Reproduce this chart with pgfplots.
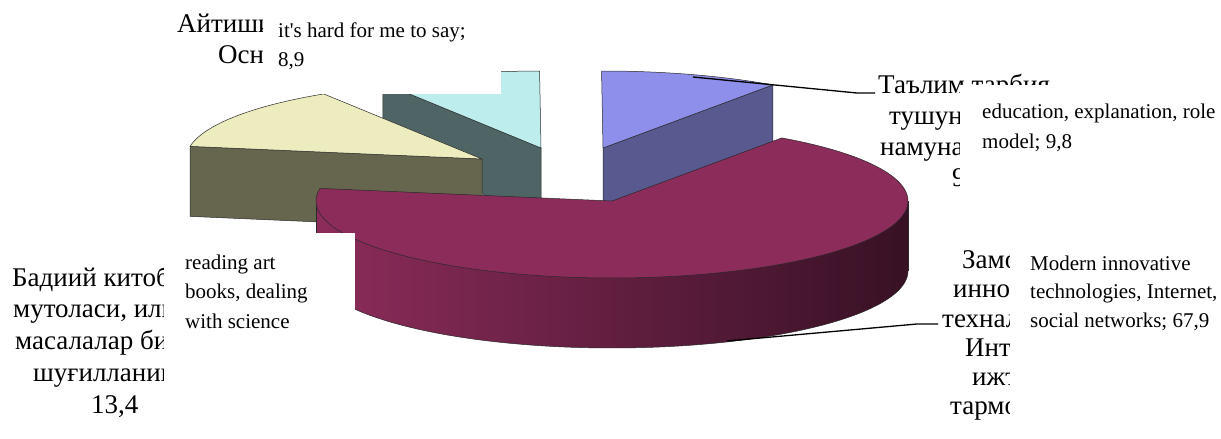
\documentclass[border=0pt]{standalone}
\usepackage{pgfplots}
\pgfplotsset{compat=1.18}
\usepackage{fontspec}
\setmainfont{Liberation Serif}
\definecolor{martop}{RGB}{140,44,90}
\definecolor{mardark}{RGB}{56,17,37}
\definecolor{blutop}{RGB}{142,142,235}
\definecolor{bluside}{RGB}{87,89,143}
\definecolor{cyatop}{RGB}{189,237,237}
\definecolor{cyaside}{RGB}{79,101,101}
\definecolor{yeltop}{RGB}{236,236,190}
\definecolor{yelside}{RGB}{102,102,79}
\definecolor{edge}{RGB}{40,40,40}
\newcommand\cyr{\fontsize{27}{30}\selectfont}
\newcommand\eng{\fontsize{21}{28}\selectfont}
\begin{document}
\begin{tikzpicture}
% shares (per cent)
\def\pEdu{9.8}\def\pHard{8.9}\def\pRead{13.4}\def\pTech{67.9}
\def\rx{296}\def\ry{77}\def\thk{70}
\pgfmathsetmacro{\aA}{55}
\pgfmathsetmacro{\aB}{\aA+3.6*\pEdu}
\pgfmathsetmacro{\aC}{\aB+3.6*\pHard}
\pgfmathsetmacro{\aD}{\aC+3.6*\pRead}
\pgfmathsetmacro{\aE}{\aD+3.6*\pTech}
% slice centres (exploded)
\def\Bx{603}\def\By{148}
\def\Cx{541}\def\Cy{148}
\def\Yx{482}\def\Yy{159}
\def\Mx{612}\def\My{201}
% radial faces
\pgfmathsetmacro{\bpx}{\Bx+\rx*cos(\aA)}\pgfmathsetmacro{\bpy}{\By-\ry*sin(\aA)}
\pgfmathsetmacro{\bpyl}{\bpy+\thk}\pgfmathsetmacro{\Byl}{\By+\thk}
\pgfmathsetmacro{\cpx}{\Cx+\rx*cos(\aC)}\pgfmathsetmacro{\cpy}{\Cy-\ry*sin(\aC)}
\pgfmathsetmacro{\cpyl}{\cpy+\thk}\pgfmathsetmacro{\Cyl}{\Cy+\thk}
\pgfmathsetmacro{\ypx}{\Yx+\rx*cos(\aD)}\pgfmathsetmacro{\ypy}{\Yy-\ry*sin(\aD)}
\pgfmathsetmacro{\ypyl}{\ypy+\thk}\pgfmathsetmacro{\Yyl}{\Yy+\thk}
\pgfmathsetmacro{\Mr}{\Mx+\rx}\pgfmathsetmacro{\Ml}{\Mx-\rx}
\pgfmathsetmacro{\Myl}{\My+\thk}
\begin{axis}[width=1221pt,height=439pt,scale only axis,
  xmin=0,xmax=1221,ymin=0,ymax=439,y dir=reverse,hide axis,clip=false]
\path[draw=none] (axis cs:0,0) rectangle (axis cs:1221,439);
% cyan slice (hard to say)
\addplot[fill=cyaside,draw=edge,line width=0.5pt] coordinates {(\Cx,\Cy) (\cpx,\cpy) (\cpx,\cpyl) (\Cx,\Cyl)} -- cycle;
\addplot[fill=cyatop,draw=edge,line width=0.5pt,domain=\aB:\aC,samples=40] ({\Cx+\rx*cos(x)},{\Cy-\ry*sin(x)}) -- (\Cx,\Cy) -- cycle;
% blue slice (education)
\addplot[fill=bluside,draw=edge,line width=0.5pt] coordinates {(\Bx,\By) (\bpx,\bpy) (\bpx,\bpyl) (\Bx,\Byl)} -- cycle;
\addplot[fill=blutop,draw=edge,line width=0.5pt,domain=\aA:\aB,samples=40] ({\Bx+\rx*cos(x)},{\By-\ry*sin(x)}) -- (\Bx,\By) -- cycle;
% yellow slice (reading)
\addplot[fill=yelside,draw=edge,line width=0.5pt] coordinates {(\Yx,\Yy) (\ypx,\ypy) (\ypx,\ypyl) (\Yx,\Yyl)} -- cycle;
\addplot[fill=yeltop,draw=edge,line width=0.5pt,domain=\aC:\aD,samples=50] ({\Yx+\rx*cos(x)},{\Yy-\ry*sin(x)}) -- (\Yx,\Yy) -- cycle;
% maroon slice (technologies)
\addplot[draw=none,left color=martop,middle color=martop!85!mardark,right color=mardark,domain=180:360,samples=120] ({\Mx+\rx*cos(x)},{\Myl-\ry*sin(x)}) -- (\Mr,\My) -- (\Ml,\My) -- cycle;
\addplot[draw=edge,line width=0.5pt,domain=180:360,samples=120] ({\Mx+\rx*cos(x)},{\Myl-\ry*sin(x)});
\addplot[draw=edge,line width=0.5pt] coordinates {(\Ml,\My) (\Ml,\Myl)};
\addplot[draw=edge,line width=0.5pt] coordinates {(\Mr,\My) (\Mr,\Myl)};
\addplot[fill=martop,draw=edge,line width=0.5pt,domain=\aD:\aE,samples=200] ({\Mx+\rx*cos(x)},{\My-\ry*sin(x)}) -- (\Mx,\My) -- cycle;
% leader lines
\addplot[black,line width=1.3pt] coordinates {(693,77) (857,93) (875,93)};
\addplot[black,line width=1.3pt] coordinates {(727,341) (917,324) (938,324)};
% Uzbek labels (partly hidden by the English label boxes)
\node[anchor=base west,font=\cyr,inner sep=0] at (axis cs:177,32) {Айтиши};
\node[anchor=base west,font=\cyr,inner sep=0] at (axis cs:218,63) {Осна};
\node[anchor=base west,font=\cyr,inner sep=0] at (axis cs:878,93) {Таълим тарбия,};
\node[anchor=base west,font=\cyr,inner sep=0] at (axis cs:889,124) {тушунт};
\node[anchor=base west,font=\cyr,inner sep=0] at (axis cs:880,155) {намуна;};
\node[anchor=base west,font=\cyr,inner sep=0] at (axis cs:952,186) {9,8};
\node[anchor=base west,font=\cyr,inner sep=0] at (axis cs:12,286) {Бадиий китоб};
\node[anchor=base west,font=\cyr,inner sep=0] at (axis cs:13,317) {мутоласи, илм};
\node[anchor=base west,font=\cyr,inner sep=0] at (axis cs:15,349) {масалалар бил};
\node[anchor=base west,font=\cyr,inner sep=0] at (axis cs:33,381) {шуғилланиш;};
\node[anchor=base west,font=\cyr,inner sep=0] at (axis cs:91,413) {13,4};
\node[anchor=base west,font=\cyr,inner sep=0] at (axis cs:962,268) {Замо};
\node[anchor=base west,font=\cyr,inner sep=0] at (axis cs:953,297) {иннов};
\node[anchor=base west,font=\cyr,inner sep=0] at (axis cs:942,327) {технало};
\node[anchor=base west,font=\cyr,inner sep=0] at (axis cs:965,356) {Интернет,};
\node[anchor=base west,font=\cyr,inner sep=0] at (axis cs:972,385) {ижтимоий};
\node[anchor=base west,font=\cyr,inner sep=0] at (axis cs:950,414) {тармоклар; 67,9};
% white label boxes
\fill[white] (axis cs:263,0) rectangle (axis cs:501,94);
\fill[white] (axis cs:960,85) rectangle (axis cs:1221,200);
\fill[white] (axis cs:164,233) rectangle (axis cs:355,439);
\fill[white] (axis cs:1010,245) rectangle (axis cs:1221,439);
% English labels
\node[anchor=base west,font=\eng,inner sep=0] at (axis cs:278,37) {it\textquotesingle s hard for me to say;};
\node[anchor=base west,font=\eng,inner sep=0] at (axis cs:278,66) {8,9};
\node[anchor=base west,font=\eng,inner sep=0] at (axis cs:982,118) {education, explanation, role};
\node[anchor=base west,font=\eng,inner sep=0] at (axis cs:982,148) {model; 9,8};
\node[anchor=base west,font=\eng,inner sep=0] at (axis cs:185,269) {reading art};
\node[anchor=base west,font=\eng,inner sep=0] at (axis cs:185,298) {books, dealing};
\node[anchor=base west,font=\eng,inner sep=0] at (axis cs:185,328) {with science};
\node[anchor=base west,font=\eng,inner sep=0] at (axis cs:1030,270) {Modern innovative};
\node[anchor=base west,font=\eng,inner sep=0] at (axis cs:1030,298) {technologies, Internet,};
\node[anchor=base west,font=\eng,inner sep=0] at (axis cs:1030,327) {social networks; 67,9};
\end{axis}
\end{tikzpicture}
\end{document}
